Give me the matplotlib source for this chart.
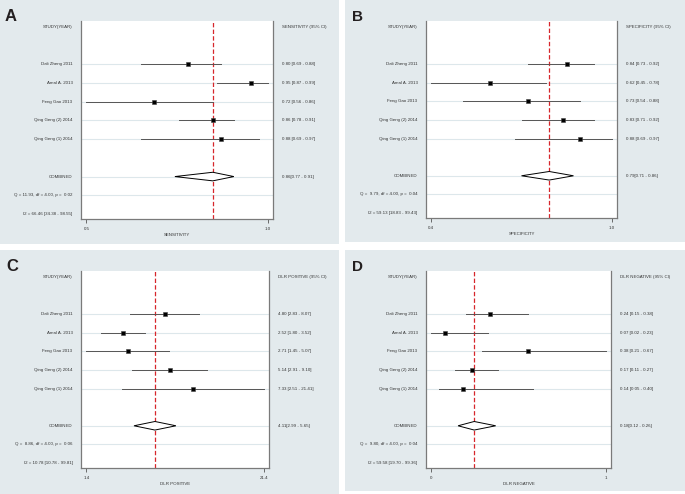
import numpy as np
import matplotlib
matplotlib.use("Agg")
import matplotlib.pyplot as plt
from matplotlib.patches import Rectangle, Polygon
import matplotlib.transforms as mtransforms

plt.rcParams['font.family'] = ['Liberation Sans', 'DejaVu Sans']

# data
studies = ["Dali Zheng 2011", "Amal A. 2013", "Feng Gao 2013",
           "Qing Geng (2) 2014", "Qing Geng (1) 2014"]

sens = [0.80, 0.95, 0.72, 0.86, 0.88]
sens_lo = [0.69, 0.87, 0.56, 0.78, 0.69]
sens_hi = [0.88, 0.99, 0.86, 0.91, 0.97]
sens_pool = [0.86, 0.77, 0.91]

spec = [0.84, 0.62, 0.73, 0.83, 0.88]
spec_lo = [0.73, 0.45, 0.54, 0.71, 0.69]
spec_hi = [0.92, 0.78, 0.88, 0.92, 0.97]
spec_pool = [0.79, 0.71, 0.86]

dlrp = [4.80, 2.52, 2.71, 5.14, 7.33]
dlrp_lo = [2.83, 1.80, 1.45, 2.91, 2.51]
dlrp_hi = [8.07, 3.52, 5.07, 9.10, 21.41]
dlrp_pool = [4.11, 2.99, 5.65]

dlrn = [0.24, 0.07, 0.38, 0.17, 0.14]
dlrn_lo = [0.15, 0.02, 0.21, 0.11, 0.05]
dlrn_hi = [0.38, 0.23, 0.67, 0.27, 0.40]
dlrn_pool = [0.18, 0.12, 0.26]

panels = [
    dict(letter="A", est=sens, lo=sens_lo, hi=sens_hi, pool=sens_pool, log=False,
         name="SENSITIVITY", ticklabels=["0.5", "1.0"],
         q="Q = 11.93, df = 4.00, p =  0.02", i2="I2 = 66.46 [34.38 - 98.55]"),
    dict(letter="B", est=spec, lo=spec_lo, hi=spec_hi, pool=spec_pool, log=False,
         name="SPECIFICITY", ticklabels=["0.4", "1.0"],
         q="Q =  9.79, df = 4.00, p =  0.04", i2="I2 = 59.13 [18.83 - 99.43]"),
    dict(letter="C", est=dlrp, lo=dlrp_lo, hi=dlrp_hi, pool=dlrp_pool, log=True,
         name="DLR POSITIVE", ticklabels=["1.4", "21.4"],
         q="Q =  8.86, df = 4.00, p =  0.06", i2="I2 = 10.78 [10.78 - 99.81]"),
    dict(letter="D", est=dlrn, lo=dlrn_lo, hi=dlrn_hi, pool=dlrn_pool, log=False,
         name="DLR NEGATIVE", ticklabels=["0", "1"],
         q="Q =  9.80, df = 4.00, p =  0.04", i2="I2 = 59.58 [19.70 - 99.36]"),
]

W, H = 685, 494
# panel background boxes and plot boxes, in pixels (x0, y0, x1, y1) from top-left
bg_boxes = [(0, 0, 339, 244), (345, 0, 685, 242), (0, 250, 339, 494), (345, 250, 685, 491)]
ax_boxes = [(81, 21, 273, 219), (426, 21, 617, 218), (81, 271, 269, 468), (426, 271, 611, 468)]
letter_pos = [(5, 21, 12), (352, 21, 11), (6, 271, 12), (352, 271, 11)]

BG = "#e3eaed"
ROWLINE = "#dde7eb"
FS = 3.2

fig = plt.figure(figsize=(W / 100, H / 100), dpi=100)

for p, bg, box, lp in zip(panels, bg_boxes, ax_boxes, letter_pos):
    fig.patches.append(Rectangle((bg[0] / W, 1 - bg[3] / H), (bg[2] - bg[0]) / W,
                                 (bg[3] - bg[1]) / H, transform=fig.transFigure,
                                 facecolor=BG, edgecolor="none", zorder=-5))
    fig.text(lp[0] / W, 1 - lp[1] / H, p["letter"], fontsize=lp[2], fontweight="bold",
             color="#231f20", ha="left", va="baseline")

    axw = box[2] - box[0]
    ax = fig.add_axes([box[0] / W, 1 - box[3] / H, axw / W, (box[3] - box[1]) / H])
    ax.set_facecolor("white")

    tmin, tmax = min(p["lo"]), max(p["hi"])
    if p["log"]:
        ax.set_xscale("log")
        a, b = np.log(tmin), np.log(tmax)
        pad = 0.03 * (b - a)
        ax.set_xlim(np.exp(a - pad), np.exp(b + pad))
    else:
        pad = 0.03 * (tmax - tmin)
        ax.set_xlim(tmin - pad, tmax + pad)
    ax.set_ylim(10.27, -0.32)

    rows = [2, 3, 4, 5, 6]
    for r in rows + [8, 9]:
        ax.axhline(r, color=ROWLINE, lw=0.8, zorder=1)

    pv, pl, ph = p["pool"]
    ax.axvline(pv, color="#d7262b", ls=(0, (3.5, 1.8)), lw=0.9, zorder=2)

    for r, e, l, h in zip(rows, p["est"], p["lo"], p["hi"]):
        ax.plot([l, h], [r, r], color="#555555", lw=0.7, zorder=3)
        ax.plot(e, r, marker="s", ms=3.0, color="black", mec="#444444", mew=0.4, zorder=4)

    ax.add_patch(Polygon([(pl, 8), (pv, 7.77), (ph, 8), (pv, 8.23)], closed=True,
                         facecolor="white", edgecolor="black", lw=0.7, zorder=4))

    ax.spines["top"].set_visible(False)
    for s in ["left", "right", "bottom"]:
        ax.spines[s].set_color("#7a7a7a")
        ax.spines[s].set_linewidth(0.9)
    ax.set_yticks([])
    ax.minorticks_off()
    ax.set_xticks([tmin, tmax])
    ax.set_xticklabels(p["ticklabels"])
    ax.tick_params(axis="x", length=3, width=0.6, color="#555555", pad=2.5,
                   labelsize=FS, labelcolor="#333333")
    ax.set_xlabel(p["name"], fontsize=FS, color="#333333", labelpad=1.5)

    left = mtransforms.blended_transform_factory(ax.transAxes, ax.transData)
    lx = -8.5 / axw
    rx = 1 + 8.5 / axw
    kw = dict(fontsize=FS, color="#333333", va="center", transform=left, clip_on=False)
    ax.text(lx, 0, "STUDY(YEAR)", ha="right", **kw)
    ax.text(rx, 0, p["name"] + " (95% CI)", ha="left", **kw)
    for r, s, e, l, h in zip(rows, studies, p["est"], p["lo"], p["hi"]):
        ax.text(lx, r, s, ha="right", **kw)
        ax.text(rx, r, f"{e:.2f} [{l:.2f} - {h:.2f}]", ha="left", **kw)
    ax.text(lx, 8, "COMBINED", ha="right", **kw)
    ax.text(rx, 8, f"{pv:.2f}[{pl:.2f} - {ph:.2f}]", ha="left", **kw)
    ax.text(lx, 9, p["q"], ha="right", **kw)
    ax.text(lx, 10, p["i2"], ha="right", **kw)

fig.savefig("out.png", dpi=100)
